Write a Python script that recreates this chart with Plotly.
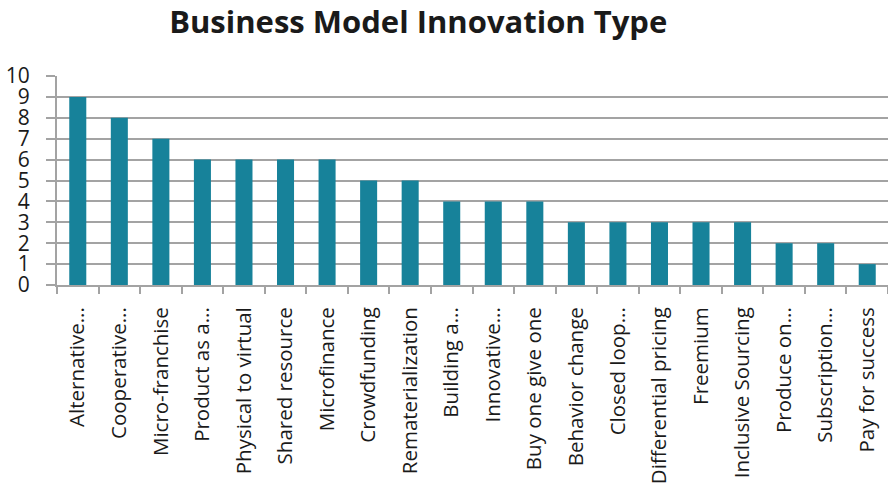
import plotly.graph_objects as go

# Business model innovation types and their counts
categories = [
    "Alternative...", "Cooperative...", "Micro-franchise", "Product as a...",
    "Physical to virtual", "Shared resource", "Microfinance", "Crowdfunding",
    "Rematerialization", "Building a...", "Innovative...", "Buy one give one",
    "Behavior change", "Closed loop...", "Differential pricing", "Freemium",
    "Inclusive Sourcing", "Produce on...", "Subscription...", "Pay for success",
]
counts = [9, 8, 7, 6, 6, 6, 6, 5, 5, 4, 4, 4, 3, 3, 3, 3, 3, 2, 2, 1]
y_ticks = list(range(0, 11))

fig = go.Figure()
fig.add_trace(go.Bar(
    x=categories, y=counts,
    marker=dict(color="#17829a", line=dict(width=0)),
))

fig.update_layout(
    width=888, height=483,
    margin=dict(l=57, r=0, t=76, b=198, autoexpand=False),
    paper_bgcolor="white", plot_bgcolor="white",
    bargap=0.59,
    showlegend=False,
    font=dict(family="Open Sans", color="#1a1a1a"),
    title=dict(
        text="<b>Business Model Innovation Type</b>",
        x=0.471, xanchor="center", y=0.955, yanchor="middle",
        font=dict(size=31, family="Open Sans", color="#1a1a1a"),
    ),
)
fig.update_yaxes(
    range=[0, 10], tickvals=y_ticks,
    showgrid=True, gridcolor="#a3a3a3", gridwidth=2,
    showline=True, linecolor="#a3a3a3", linewidth=2,
    ticks="outside", ticklen=9, tickcolor="#a3a3a3", tickwidth=2,
    tickfont=dict(size=21, family="Open Sans", color="#1a1a1a"),
    ticklabelstandoff=12,
    zeroline=False, automargin=False,
)
fig.update_xaxes(
    type="category", tickangle=-90,
    showline=True, linecolor="#a3a3a3", linewidth=2,
    ticks="outside", tickson="boundaries", ticklen=7, tickcolor="#a3a3a3", tickwidth=2,
    tickfont=dict(size=20.5, family="Open Sans", color="#1a1a1a"),
    ticklabelstandoff=12,
    automargin=False,
)

# page body has an 8px default margin; drop it so the figure sits at the corner
fig.write_html(
    "out.html",
    config={"displayModeBar": False},
    post_script="document.body.style.margin='0';",
)
